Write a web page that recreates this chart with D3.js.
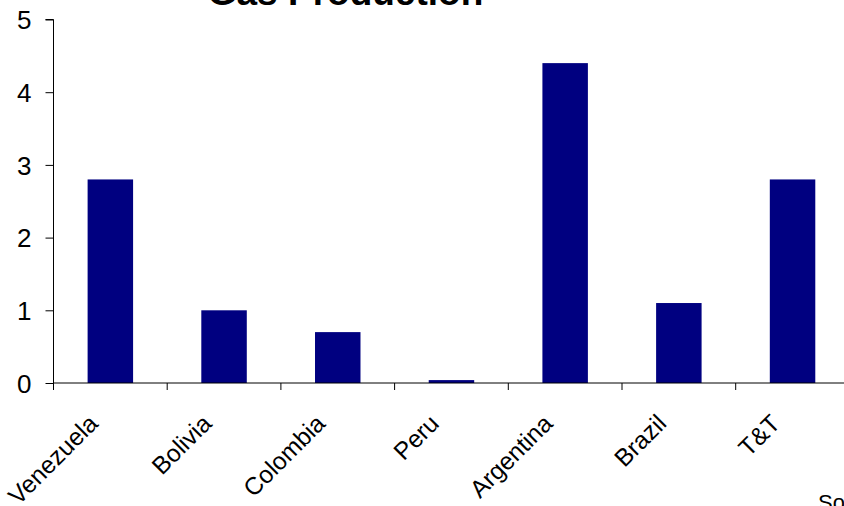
<!DOCTYPE html>
<html>
<head>
<meta charset="utf-8">
<script src="https://cdn.jsdelivr.net/npm/d3@7"></script>
<style>
html,body{margin:0;padding:0;background:#fff;overflow:hidden;}
svg{display:block;font-family:Arial,"Liberation Sans",sans-serif;}
</style>
</head>
<body>
<svg id="chart" width="844" height="506"></svg>
<script>
const categories = ["Venezuela","Bolivia","Colombia","Peru","Argentina","Brazil","T&T"];
const values = [2.8, 1.0, 0.7, 0.04, 4.4, 1.1, 2.8];
const yTicks = [0,1,2,3,4,5];
const title = "Gas Production";
const sourceText = "Source";

const svg = d3.select("#chart");
const x0 = 53.5, yBase = 383, yTop = 19.5;
const x = d3.scaleBand().domain(categories).range([x0, x0 + 7*113.7])
  .paddingInner(0.6).paddingOuter(0.3);
const y = d3.scaleLinear().domain([0,5]).range([yBase, yTop]);

// bars
svg.append("g").selectAll("rect").data(values).join("rect")
  .attr("x", (d,i) => x(categories[i]))
  .attr("y", d => y(d))
  .attr("width", x.bandwidth())
  .attr("height", d => yBase - y(d))
  .attr("fill", "#000080");

// y axis
const ya = svg.append("g").attr("transform", `translate(${x0},0)`)
  .call(d3.axisLeft(y).tickValues(yTicks).tickFormat(d3.format("d")).tickSize(8).tickPadding(14));
ya.select(".domain").attr("stroke","#000").attr("d", `M-8,${y(5)}H0V${yBase}`);
ya.selectAll(".tick line").attr("stroke","#000");
ya.selectAll(".tick text").attr("font-size", 26).attr("font-family","Arial,'Liberation Sans',sans-serif").attr("fill","#000").attr("dy","0.36em");

// x axis
const xa = svg.append("g").attr("transform", `translate(0,${yBase})`);
xa.append("line").attr("x1", x0).attr("x2", 844).attr("y1", 0).attr("y2", 0).attr("stroke","#000");
const step = x.step();
const boundaries = d3.range(0, 7).map(i => x0 + i*step);
xa.selectAll("line.tk").data(boundaries).join("line").attr("class","tk")
  .attr("x1", d => d).attr("x2", d => d).attr("y1", 0).attr("y2", 7).attr("stroke","#000");
xa.selectAll("text").data(categories).join("text")
  .attr("transform", d => `translate(${x(d) + x.bandwidth()/2 - 11},42) rotate(-45)`)
  .attr("text-anchor","end")
  .attr("font-size", 24.5)
  .attr("fill","#000")
  .text(d => d);

// title
svg.append("text").attr("x", 345.5).attr("y", 5).attr("text-anchor","middle")
  .attr("font-size", 37).attr("font-weight","bold").attr("fill","#000").text(title);

// source (cut off at the edge, as in the reference)
svg.append("text").attr("x", 818).attr("y", 510).attr("font-size", 22).attr("fill","#000").text(sourceText);
</script>
</body>
</html>
